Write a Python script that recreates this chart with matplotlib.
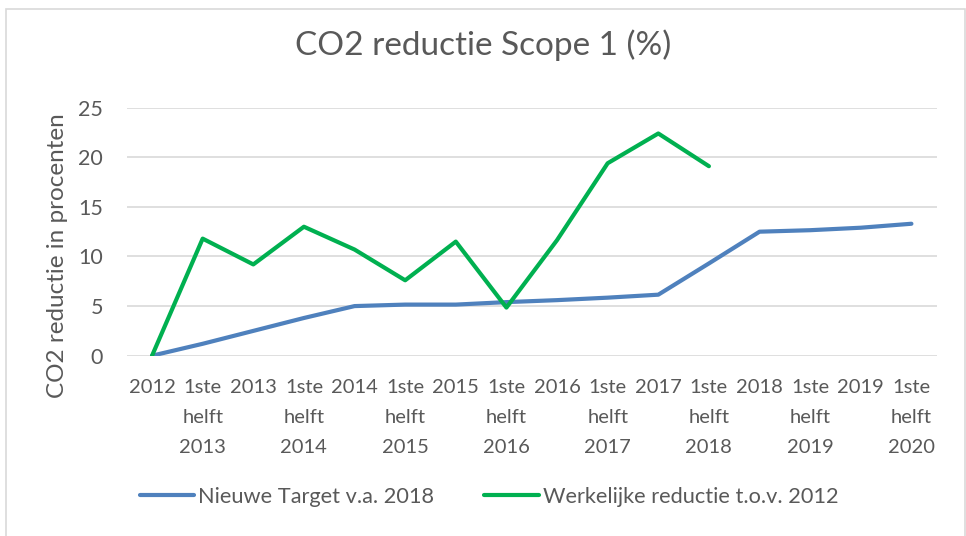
import numpy as np
import matplotlib
matplotlib.use('Agg')
import matplotlib.pyplot as plt
from matplotlib.patches import Rectangle

plt.rcParams['font.family'] = ['Lato', 'DejaVu Sans']

# categorieen op de x-as
categories = ['2012', '1ste\nhelft\n2013', '2013', '1ste\nhelft\n2014', '2014',
              '1ste\nhelft\n2015', '2015', '1ste\nhelft\n2016', '2016',
              '1ste\nhelft\n2017', '2017', '1ste\nhelft\n2018', '2018',
              '1ste\nhelft\n2019', '2019', '1ste\nhelft\n2020']
target = [0, 1.2, 2.5, 3.8, 5.0, 5.15, 5.15, 5.4, 5.6, 5.85, 6.15, 9.3,
          12.5, 12.65, 12.9, 13.3]
werkelijk = [0, 11.8, 9.2, 13.0, 10.7, 7.6, 11.5, 4.85, 11.65, 19.4, 22.4, 19.1]
yticks = [0, 5, 10, 15, 20, 25]

txt = '#595959'
fig = plt.figure(figsize=(9.66, 5.36), dpi=100)
ax = fig.add_axes([0.1312, 0.3364, 0.8385, 0.4627])

x = np.arange(len(categories))
ax.plot(x, target, color='#4F81BD', lw=3, solid_capstyle='round',
        label='Nieuwe Target v.a. 2018', zorder=3)
ax.plot(x[:len(werkelijk)], werkelijk, color='#00B050', lw=3,
        solid_capstyle='round', label='Werkelijke reductie t.o.v. 2012', zorder=3)

ax.set_xlim(-0.5, len(categories) - 0.5)
ax.set_ylim(0, 25)
ax.set_yticks(yticks)
ax.set_xticks(x)
ax.set_xticklabels(categories)
for t in ax.get_xticklabels():
    t.set_linespacing(1.9)
ax.tick_params(axis='both', length=0, colors=txt)
ax.tick_params(axis='x', pad=17, labelsize=14.5)
ax.tick_params(axis='y', pad=17, labelsize=15.5)
ax.grid(axis='y', color='#D9D9D9', lw=1.2)
ax.set_axisbelow(True)
for s in ax.spines.values():
    s.set_visible(False)

fig.text(57 / 966, 1 - 256 / 536, 'CO2 reductie in procenten', rotation=90,
         ha='center', va='center', fontsize=17.5, color=txt)
fig.text(0.5, 1 - 45 / 536, 'CO2 reductie Scope 1 (%)', ha='center', va='center',
         fontsize=24, color=txt)

fig.legend(loc='center', bbox_to_anchor=(489 / 966, 1 - 497 / 536), ncol=2,
           frameon=False, fontsize=15.7, handlelength=2.5, handletextpad=0.18,
           columnspacing=2.3, labelcolor=txt)

# kader rond de grafiek
fig.add_artist(Rectangle((6 / 966, -0.1), 959 / 966, (536 - 9) / 536 + 0.1,
                         transform=fig.transFigure, fill=False,
                         edgecolor='#D9D9D9', lw=1.2))

fig.savefig('out.png', dpi=100)
